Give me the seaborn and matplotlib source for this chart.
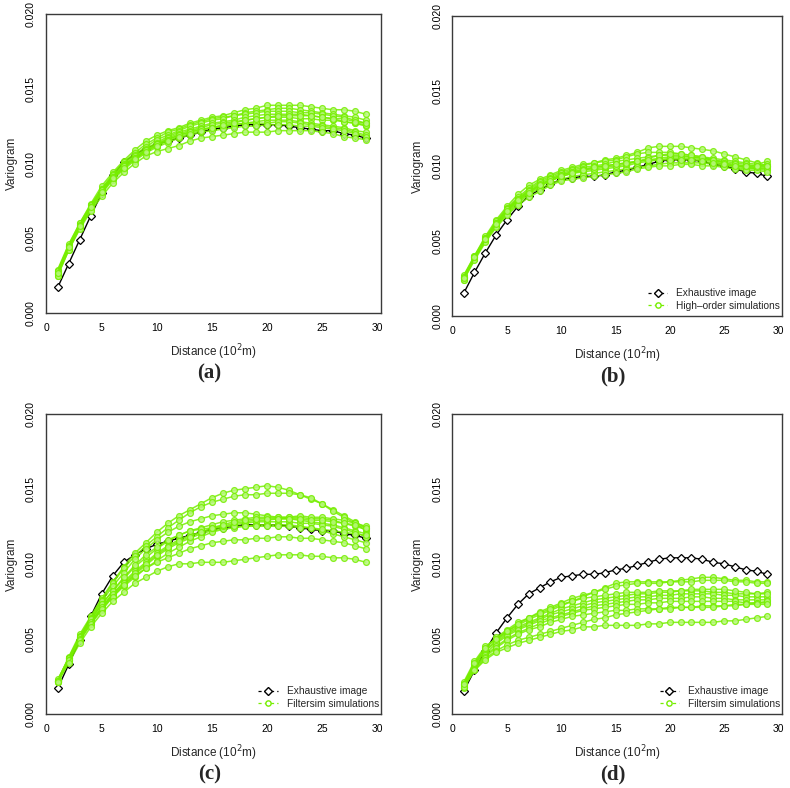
"""Variogram reproduction: exhaustive image vs. simulations, four panels."""

import matplotlib

matplotlib.use("Agg")

import matplotlib.pyplot as plt
import pandas as pd
import seaborn as sns
from matplotlib.lines import Line2D

LAGS = list(range(1, 30))

EXHAUSTIVE_AC = [
    0.0017, 0.0033, 0.0049, 0.0065, 0.0080, 0.0092, 0.0101, 0.0106, 0.0110, 0.0113,
    0.0115, 0.0117, 0.0119, 0.0121, 0.0123, 0.0124, 0.0125, 0.0126, 0.0126, 0.0126,
    0.0126, 0.0125, 0.0124, 0.0123, 0.0122, 0.0122, 0.0120, 0.0119, 0.0117,
]
EXHAUSTIVE_BD = [
    0.0015, 0.0029, 0.0042, 0.0054, 0.0064, 0.0073, 0.0080, 0.0084, 0.0088, 0.0091,
    0.0092, 0.0093, 0.0093, 0.0094, 0.0096, 0.0097, 0.0099, 0.0101, 0.0103, 0.0104,
    0.0104, 0.0104, 0.0103, 0.0101, 0.0100, 0.0098, 0.0096, 0.0095, 0.0093,
]

SIMS_A = [
    [0.0028, 0.0045, 0.0060, 0.0073, 0.0085, 0.0094, 0.0102, 0.0109, 0.0115, 0.0119, 0.0122, 0.0124, 0.0127, 0.0129, 0.0131,
     0.0132, 0.0134, 0.0136, 0.0137, 0.0139, 0.0139, 0.0139, 0.0139, 0.0138, 0.0137, 0.0136, 0.0136, 0.0135, 0.0133],
    [0.0027, 0.0045, 0.0059, 0.0072, 0.0083, 0.0093, 0.0101, 0.0107, 0.0113, 0.0117, 0.0121, 0.0123, 0.0126, 0.0128, 0.0130,
     0.0131, 0.0132, 0.0134, 0.0135, 0.0136, 0.0137, 0.0137, 0.0136, 0.0135, 0.0134, 0.0133, 0.0132, 0.0131, 0.0129],
    [0.0029, 0.0046, 0.0060, 0.0072, 0.0083, 0.0092, 0.0100, 0.0106, 0.0111, 0.0116, 0.0119, 0.0122, 0.0125, 0.0127, 0.0129,
     0.0130, 0.0132, 0.0133, 0.0134, 0.0135, 0.0135, 0.0135, 0.0134, 0.0134, 0.0133, 0.0132, 0.0131, 0.0129, 0.0127],
    [0.0026, 0.0044, 0.0058, 0.0071, 0.0082, 0.0091, 0.0099, 0.0105, 0.0110, 0.0114, 0.0118, 0.0121, 0.0123, 0.0125, 0.0127,
     0.0128, 0.0129, 0.0131, 0.0132, 0.0133, 0.0133, 0.0133, 0.0133, 0.0132, 0.0131, 0.0130, 0.0128, 0.0127, 0.0125],
    [0.0027, 0.0043, 0.0058, 0.0070, 0.0081, 0.0090, 0.0098, 0.0104, 0.0109, 0.0113, 0.0117, 0.0120, 0.0122, 0.0124, 0.0126,
     0.0127, 0.0128, 0.0129, 0.0130, 0.0131, 0.0131, 0.0131, 0.0130, 0.0130, 0.0129, 0.0129, 0.0128, 0.0127, 0.0126],
    [0.0025, 0.0042, 0.0057, 0.0070, 0.0081, 0.0090, 0.0097, 0.0103, 0.0108, 0.0112, 0.0116, 0.0119, 0.0121, 0.0123, 0.0124,
     0.0125, 0.0126, 0.0127, 0.0128, 0.0129, 0.0129, 0.0129, 0.0128, 0.0127, 0.0126, 0.0125, 0.0124, 0.0122, 0.0121],
    [0.0028, 0.0045, 0.0059, 0.0071, 0.0082, 0.0091, 0.0098, 0.0104, 0.0109, 0.0113, 0.0116, 0.0119, 0.0121, 0.0123, 0.0124,
     0.0125, 0.0126, 0.0127, 0.0127, 0.0127, 0.0128, 0.0128, 0.0127, 0.0126, 0.0125, 0.0124, 0.0123, 0.0121, 0.0119],
    [0.0026, 0.0043, 0.0057, 0.0069, 0.0080, 0.0089, 0.0096, 0.0102, 0.0107, 0.0111, 0.0114, 0.0117, 0.0119, 0.0121, 0.0122,
     0.0123, 0.0124, 0.0125, 0.0125, 0.0126, 0.0126, 0.0126, 0.0125, 0.0125, 0.0124, 0.0123, 0.0122, 0.0120, 0.0118],
    [0.0025, 0.0042, 0.0056, 0.0068, 0.0078, 0.0087, 0.0094, 0.0100, 0.0105, 0.0108, 0.0110, 0.0112, 0.0115, 0.0117, 0.0118,
     0.0119, 0.0120, 0.0121, 0.0121, 0.0121, 0.0122, 0.0122, 0.0122, 0.0122, 0.0121, 0.0120, 0.0118, 0.0117, 0.0116],
    [0.0027, 0.0044, 0.0058, 0.0071, 0.0081, 0.0090, 0.0097, 0.0103, 0.0108, 0.0112, 0.0115, 0.0118, 0.0120, 0.0122, 0.0124,
     0.0126, 0.0127, 0.0129, 0.0130, 0.0131, 0.0132, 0.0132, 0.0132, 0.0132, 0.0131, 0.0130, 0.0130, 0.0128, 0.0127],
]

SIMS_B = [
    [0.0026, 0.0040, 0.0053, 0.0064, 0.0073, 0.0081, 0.0087, 0.0091, 0.0094, 0.0097, 0.0099, 0.0101, 0.0102, 0.0104, 0.0105,
     0.0107, 0.0109, 0.0112, 0.0113, 0.0113, 0.0113, 0.0112, 0.0111, 0.0110, 0.0108, 0.0106, 0.0104, 0.0102, 0.0100],
    [0.0027, 0.0040, 0.0052, 0.0063, 0.0072, 0.0079, 0.0085, 0.0090, 0.0093, 0.0096, 0.0098, 0.0100, 0.0102, 0.0103, 0.0104,
     0.0106, 0.0108, 0.0109, 0.0109, 0.0109, 0.0108, 0.0107, 0.0106, 0.0105, 0.0104, 0.0103, 0.0102, 0.0101, 0.0103],
    [0.0025, 0.0039, 0.0052, 0.0062, 0.0071, 0.0078, 0.0084, 0.0089, 0.0092, 0.0095, 0.0097, 0.0099, 0.0100, 0.0101, 0.0103,
     0.0104, 0.0105, 0.0106, 0.0107, 0.0107, 0.0107, 0.0106, 0.0105, 0.0104, 0.0103, 0.0102, 0.0101, 0.0100, 0.0101],
    [0.0026, 0.0039, 0.0051, 0.0061, 0.0070, 0.0077, 0.0083, 0.0087, 0.0091, 0.0094, 0.0096, 0.0098, 0.0099, 0.0100, 0.0101,
     0.0102, 0.0103, 0.0104, 0.0105, 0.0106, 0.0106, 0.0106, 0.0105, 0.0104, 0.0102, 0.0100, 0.0099, 0.0098, 0.0099],
    [0.0024, 0.0038, 0.0050, 0.0060, 0.0069, 0.0076, 0.0082, 0.0086, 0.0090, 0.0093, 0.0095, 0.0096, 0.0097, 0.0098, 0.0099,
     0.0100, 0.0102, 0.0103, 0.0104, 0.0105, 0.0105, 0.0105, 0.0104, 0.0103, 0.0101, 0.0099, 0.0098, 0.0098, 0.0097],
    [0.0025, 0.0038, 0.0050, 0.0060, 0.0068, 0.0075, 0.0081, 0.0085, 0.0088, 0.0091, 0.0093, 0.0094, 0.0095, 0.0096, 0.0097,
     0.0098, 0.0099, 0.0100, 0.0101, 0.0102, 0.0102, 0.0102, 0.0102, 0.0101, 0.0100, 0.0100, 0.0099, 0.0099, 0.0098],
    [0.0024, 0.0037, 0.0049, 0.0059, 0.0067, 0.0074, 0.0079, 0.0083, 0.0087, 0.0090, 0.0091, 0.0092, 0.0093, 0.0094, 0.0095,
     0.0096, 0.0098, 0.0099, 0.0100, 0.0100, 0.0101, 0.0101, 0.0100, 0.0100, 0.0099, 0.0098, 0.0097, 0.0097, 0.0096],
    [0.0026, 0.0039, 0.0051, 0.0062, 0.0071, 0.0078, 0.0083, 0.0088, 0.0091, 0.0094, 0.0096, 0.0097, 0.0098, 0.0099, 0.0100,
     0.0101, 0.0103, 0.0105, 0.0107, 0.0108, 0.0108, 0.0107, 0.0106, 0.0104, 0.0102, 0.0101, 0.0100, 0.0099, 0.0100],
    [0.0025, 0.0039, 0.0051, 0.0061, 0.0070, 0.0077, 0.0082, 0.0087, 0.0090, 0.0093, 0.0095, 0.0097, 0.0099, 0.0100, 0.0101,
     0.0102, 0.0103, 0.0104, 0.0104, 0.0104, 0.0104, 0.0104, 0.0103, 0.0102, 0.0101, 0.0100, 0.0100, 0.0100, 0.0100],
]

SIMS_C = [
    [0.0022, 0.0038, 0.0053, 0.0065, 0.0077, 0.0088, 0.0098, 0.0107, 0.0114, 0.0121, 0.0127, 0.0132, 0.0136, 0.0140, 0.0144,
     0.0147, 0.0149, 0.0150, 0.0151, 0.0152, 0.0151, 0.0149, 0.0146, 0.0143, 0.0140, 0.0136, 0.0132, 0.0128, 0.0124],
    [0.0022, 0.0037, 0.0052, 0.0064, 0.0076, 0.0087, 0.0097, 0.0105, 0.0112, 0.0118, 0.0124, 0.0129, 0.0134, 0.0138, 0.0141,
     0.0143, 0.0145, 0.0146, 0.0146, 0.0147, 0.0147, 0.0147, 0.0146, 0.0144, 0.0140, 0.0135, 0.0131, 0.0127, 0.0122],
    [0.0022, 0.0037, 0.0051, 0.0063, 0.0075, 0.0085, 0.0094, 0.0103, 0.0110, 0.0116, 0.0121, 0.0125, 0.0128, 0.0130, 0.0132,
     0.0133, 0.0134, 0.0134, 0.0133, 0.0132, 0.0131, 0.0131, 0.0131, 0.0130, 0.0130, 0.0129, 0.0127, 0.0125, 0.0123],
    [0.0022, 0.0037, 0.0051, 0.0062, 0.0073, 0.0082, 0.0090, 0.0098, 0.0104, 0.0110, 0.0115, 0.0119, 0.0122, 0.0124, 0.0126,
     0.0128, 0.0129, 0.0130, 0.0131, 0.0131, 0.0131, 0.0131, 0.0132, 0.0131, 0.0131, 0.0130, 0.0129, 0.0127, 0.0125],
    [0.0021, 0.0036, 0.0050, 0.0061, 0.0071, 0.0080, 0.0088, 0.0095, 0.0101, 0.0107, 0.0112, 0.0116, 0.0119, 0.0121, 0.0123,
     0.0125, 0.0127, 0.0128, 0.0129, 0.0129, 0.0130, 0.0130, 0.0129, 0.0128, 0.0127, 0.0126, 0.0124, 0.0122, 0.0120],
    [0.0022, 0.0036, 0.0050, 0.0061, 0.0070, 0.0079, 0.0086, 0.0093, 0.0099, 0.0105, 0.0110, 0.0114, 0.0117, 0.0120, 0.0122,
     0.0124, 0.0126, 0.0127, 0.0128, 0.0128, 0.0128, 0.0128, 0.0127, 0.0127, 0.0126, 0.0125, 0.0123, 0.0121, 0.0118],
    [0.0021, 0.0035, 0.0049, 0.0060, 0.0069, 0.0078, 0.0085, 0.0091, 0.0097, 0.0102, 0.0107, 0.0111, 0.0115, 0.0118, 0.0121,
     0.0123, 0.0124, 0.0125, 0.0126, 0.0126, 0.0126, 0.0126, 0.0125, 0.0124, 0.0122, 0.0120, 0.0118, 0.0116, 0.0114],
    [0.0023, 0.0037, 0.0051, 0.0063, 0.0073, 0.0082, 0.0091, 0.0099, 0.0106, 0.0111, 0.0116, 0.0119, 0.0122, 0.0123, 0.0124,
     0.0125, 0.0125, 0.0125, 0.0125, 0.0125, 0.0125, 0.0125, 0.0124, 0.0124, 0.0123, 0.0122, 0.0121, 0.0120, 0.0119],
    [0.0022, 0.0036, 0.0050, 0.0061, 0.0071, 0.0080, 0.0087, 0.0094, 0.0100, 0.0106, 0.0111, 0.0115, 0.0118, 0.0121, 0.0124,
     0.0126, 0.0128, 0.0129, 0.0130, 0.0130, 0.0130, 0.0130, 0.0130, 0.0129, 0.0129, 0.0128, 0.0127, 0.0126, 0.0124],
    [0.0022, 0.0036, 0.0049, 0.0060, 0.0070, 0.0078, 0.0086, 0.0092, 0.0097, 0.0101, 0.0104, 0.0107, 0.0110, 0.0112, 0.0114,
     0.0115, 0.0116, 0.0116, 0.0117, 0.0117, 0.0118, 0.0118, 0.0117, 0.0117, 0.0116, 0.0115, 0.0114, 0.0112, 0.0110],
    [0.0021, 0.0034, 0.0047, 0.0058, 0.0067, 0.0075, 0.0081, 0.0087, 0.0091, 0.0095, 0.0098, 0.0100, 0.0100, 0.0101, 0.0101,
     0.0101, 0.0102, 0.0103, 0.0104, 0.0105, 0.0106, 0.0106, 0.0106, 0.0105, 0.0105, 0.0104, 0.0104, 0.0103, 0.0101],
]

SIMS_D = [
    [0.0020, 0.0033, 0.0044, 0.0051, 0.0056, 0.0061, 0.0064, 0.0068, 0.0071, 0.0074, 0.0077, 0.0079, 0.0081, 0.0084, 0.0087,
     0.0088, 0.0088, 0.0088, 0.0088, 0.0088, 0.0089, 0.0090, 0.0091, 0.0091, 0.0090, 0.0089, 0.0089, 0.0088, 0.0088],
    [0.0021, 0.0035, 0.0045, 0.0050, 0.0055, 0.0059, 0.0063, 0.0066, 0.0069, 0.0072, 0.0075, 0.0078, 0.0081, 0.0083, 0.0085,
     0.0086, 0.0087, 0.0087, 0.0087, 0.0088, 0.0088, 0.0088, 0.0089, 0.0089, 0.0089, 0.0088, 0.0088, 0.0087, 0.0087],
    [0.0019, 0.0032, 0.0042, 0.0049, 0.0054, 0.0058, 0.0061, 0.0064, 0.0067, 0.0070, 0.0072, 0.0074, 0.0076, 0.0077, 0.0078,
     0.0079, 0.0080, 0.0080, 0.0081, 0.0081, 0.0082, 0.0082, 0.0082, 0.0081, 0.0081, 0.0080, 0.0080, 0.0080, 0.0081],
    [0.0020, 0.0033, 0.0042, 0.0048, 0.0053, 0.0057, 0.0060, 0.0063, 0.0066, 0.0068, 0.0070, 0.0072, 0.0074, 0.0075, 0.0076,
     0.0077, 0.0078, 0.0078, 0.0079, 0.0079, 0.0080, 0.0080, 0.0080, 0.0080, 0.0079, 0.0079, 0.0078, 0.0078, 0.0078],
    [0.0018, 0.0031, 0.0040, 0.0047, 0.0052, 0.0056, 0.0059, 0.0062, 0.0064, 0.0066, 0.0068, 0.0070, 0.0072, 0.0073, 0.0074,
     0.0075, 0.0076, 0.0076, 0.0077, 0.0077, 0.0077, 0.0078, 0.0078, 0.0077, 0.0077, 0.0076, 0.0076, 0.0076, 0.0076],
    [0.0019, 0.0031, 0.0039, 0.0045, 0.0050, 0.0054, 0.0057, 0.0060, 0.0063, 0.0065, 0.0067, 0.0069, 0.0070, 0.0071, 0.0072,
     0.0073, 0.0073, 0.0074, 0.0074, 0.0075, 0.0075, 0.0075, 0.0075, 0.0075, 0.0075, 0.0075, 0.0074, 0.0074, 0.0074],
    [0.0018, 0.0030, 0.0038, 0.0044, 0.0049, 0.0053, 0.0056, 0.0058, 0.0061, 0.0063, 0.0065, 0.0066, 0.0067, 0.0068, 0.0069,
     0.0069, 0.0070, 0.0070, 0.0070, 0.0071, 0.0071, 0.0071, 0.0072, 0.0072, 0.0072, 0.0073, 0.0073, 0.0074, 0.0075],
    [0.0017, 0.0029, 0.0037, 0.0042, 0.0046, 0.0049, 0.0051, 0.0053, 0.0055, 0.0057, 0.0059, 0.0061, 0.0063, 0.0064, 0.0066,
     0.0067, 0.0068, 0.0069, 0.0070, 0.0070, 0.0071, 0.0071, 0.0071, 0.0071, 0.0072, 0.0072, 0.0073, 0.0073, 0.0073],
    [0.0018, 0.0029, 0.0036, 0.0041, 0.0044, 0.0047, 0.0049, 0.0051, 0.0053, 0.0055, 0.0056, 0.0058, 0.0058, 0.0059, 0.0059,
     0.0059, 0.0059, 0.0060, 0.0060, 0.0061, 0.0061, 0.0061, 0.0061, 0.0061, 0.0062, 0.0062, 0.0063, 0.0064, 0.0065],
    [0.0020, 0.0034, 0.0044, 0.0050, 0.0055, 0.0060, 0.0064, 0.0067, 0.0070, 0.0073, 0.0075, 0.0077, 0.0078, 0.0079, 0.0080,
     0.0081, 0.0081, 0.0081, 0.0082, 0.0082, 0.0082, 0.0083, 0.0083, 0.0083, 0.0083, 0.0082, 0.0081, 0.0080, 0.0080],
]

PANEL_LABELS = ["(a)", "(b)", "(c)", "(d)"]
SIM_NAMES = [None, "High\u2013order simulations", "Filtersim simulations", "Filtersim simulations"]
EXH_NAME = "Exhaustive image"
Y_TICKS = [0.0, 0.005, 0.010, 0.015, 0.020]
X_TICKS = [0, 5, 10, 15, 20, 25, 30]

GREEN = "#76EE00"
AXIS_GREY = "#3a3a3a"

# axes rectangles in figure fractions (left, bottom, width, height)
AXES_RECTS = [
    (0.058, 0.603, 0.424, 0.379),
    (0.572, 0.599, 0.418, 0.381),
    (0.058, 0.094, 0.424, 0.381),
    (0.572, 0.094, 0.418, 0.381),
]


def to_long(curves: list[list[float]]) -> pd.DataFrame:
    rows = []
    for run, values in enumerate(curves):
        for lag, value in zip(LAGS, values):
            rows.append({"run": run, "lag": lag, "variogram": value})
    return pd.DataFrame(rows)


def draw_panel(ax, exhaustive, sims, sim_name):
    exh_df = pd.DataFrame({"lag": LAGS, "variogram": exhaustive})
    sns.lineplot(
        data=exh_df, x="lag", y="variogram", ax=ax, color="black", lw=1.0,
        marker="D", markersize=3.8, markerfacecolor="white", markeredgecolor="black",
        markeredgewidth=0.9, zorder=2,
    )
    sns.lineplot(
        data=to_long(sims), x="lag", y="variogram", units="run", estimator=None, ax=ax,
        color=GREEN, lw=1.1, alpha=0.85, marker="o", markersize=4.2,
        markerfacecolor="#b9f77f", markeredgecolor=GREEN, markeredgewidth=0.9, zorder=3,
    )

    ax.set_xlim(-0.08, 30.35)
    ax.set_ylim(0.0, 0.020)
    ax.set_xticks(X_TICKS)
    ax.set_yticks(Y_TICKS)
    ax.set_yticklabels([f"{v:.3f}" for v in Y_TICKS], rotation=90, va="center")
    ax.set_xlabel("Distance (10$^2$m)", fontsize=8.5, labelpad=7)
    ax.set_ylabel("Variogram", fontsize=8.5, labelpad=6)
    ax.tick_params(direction="out", length=4, width=0.8, colors="black",
                   labelsize=7.5, pad=3)
    for spine in ax.spines.values():
        spine.set_visible(True)
        spine.set_color(AXIS_GREY)
        spine.set_linewidth(1.0)

    if sim_name is not None:
        handles = [
            Line2D([], [], color="black", ls=(0, (2.5, 2.5)), lw=0.9, marker="D",
                   markersize=3.8, markerfacecolor="white", markeredgecolor="black"),
            Line2D([], [], color=GREEN, ls=(0, (2.5, 2.5)), lw=0.9, marker="o",
                   markersize=3.8, markerfacecolor="white", markeredgecolor=GREEN),
        ]
        ax.legend(handles, [EXH_NAME, sim_name], loc="lower right", frameon=False,
                  fontsize=7.3, handlelength=1.9, handletextpad=0.9,
                  labelspacing=0.25, borderaxespad=0.0, borderpad=0.5,
                  bbox_to_anchor=(1.01, 0.0))
    else:
        legend = ax.get_legend()
        if legend is not None:
            legend.remove()


def main():
    sns.set_theme(style="white")
    plt.rcParams["font.family"] = ["Liberation Sans", "DejaVu Sans"]

    fig = plt.figure(figsize=(7.9, 7.88), dpi=100)
    exhaustive_sets = [EXHAUSTIVE_AC, EXHAUSTIVE_BD, EXHAUSTIVE_AC, EXHAUSTIVE_BD]
    sim_sets = [SIMS_A, SIMS_B, SIMS_C, SIMS_D]

    for rect, exh, sims, name, label in zip(AXES_RECTS, exhaustive_sets, sim_sets, SIM_NAMES, PANEL_LABELS):
        ax = fig.add_axes(rect)
        draw_panel(ax, exh, sims, name)
        left, bottom, width, _ = rect
        fig.text(left + width / 2 - 0.005, bottom - 0.077, label, ha="center", va="center",
                 fontsize=15, fontweight="bold", family=["Liberation Serif", "DejaVu Serif"])

    fig.savefig("out.png", dpi=100)
    plt.close(fig)


if __name__ == "__main__":
    main()
